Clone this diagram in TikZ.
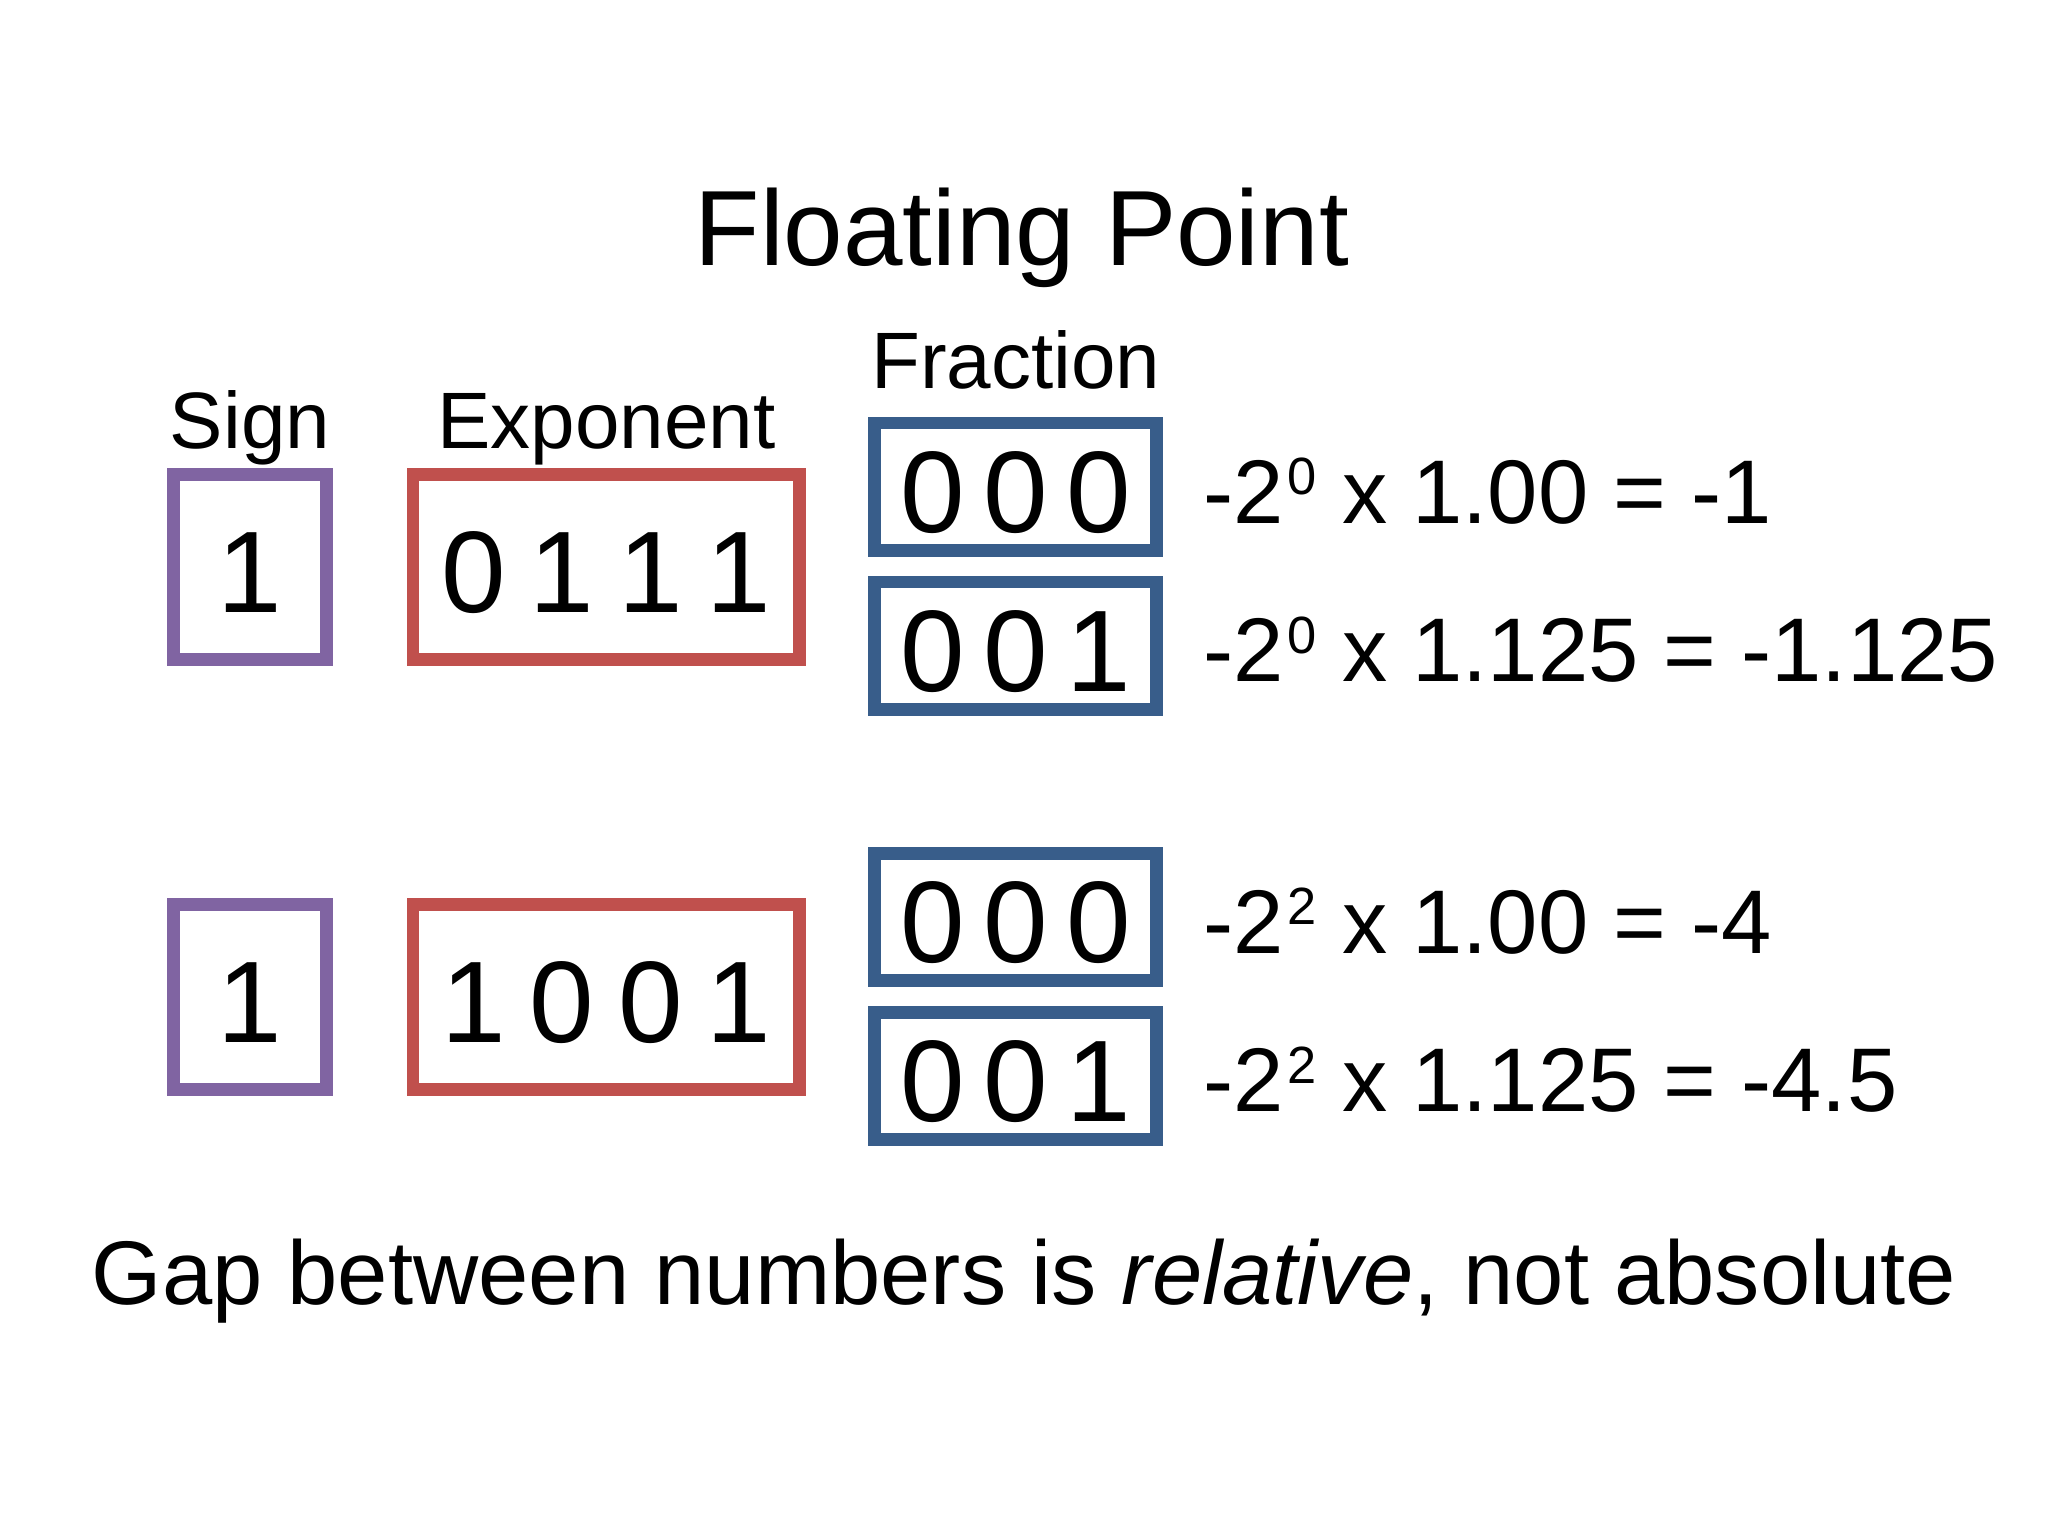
\documentclass[tikz,border=0pt]{standalone}
\usepackage{fontspec}
\setmainfont{Liberation Sans}
\usetikzlibrary{calc}
\definecolor{signc}{HTML}{8064A2}
\definecolor{expc}{HTML}{C0504D}
\definecolor{fracc}{HTML}{385D8A}
\newcommand\fgap{\hspace{4.7pt}}
\newcommand\egap{\hspace{6.0pt}}
\newcommand\supdig[1]{\hspace{1pt}\raisebox{7.1pt}{\fontsize{13.1pt}{13.1pt}\selectfont #1}}
\begin{document}
\begin{tikzpicture}[x=0.25pt,y=-0.25pt,
  box/.style={draw, line width=3.175pt, inner sep=0pt, outer sep=0pt, fill=white},
  signbox/.style={box, draw=signc, minimum width=38.175pt, minimum height=46.175pt},
  expbox/.style={box, draw=expc, minimum width=96.65pt, minimum height=46.175pt},
  fracbox/.style={box, draw=fracc, minimum width=70.5pt, minimum height=31.825pt},
  bits/.style={font=\fontsize{29pt}{29pt}\selectfont, anchor=base, inner sep=0pt},
  lbl/.style={font=\fontsize{20pt}{20pt}\selectfont, anchor=base, inner sep=0pt},
  eqn/.style={font=\fontsize{22.6pt}{22.6pt}\selectfont, anchor=base west, inner sep=0pt},
  ttl/.style={font=\fontsize{26.75pt}{26.75pt}\selectfont, anchor=base, inner sep=0pt},
  note/.style={font=\fontsize{22.6pt}{22.6pt}\selectfont, anchor=base, inner sep=0pt}]
\fill[white] (0,0) rectangle (2048,1536);
\useasboundingbox (0,0) rectangle (2048,1536);

% title
\node[ttl] (title) at (1022,265) {Floating Point};

% labels
\node[lbl] (lsign) at (250,448.5) {Sign};
\node[lbl] (lexp) at (606.35,448.5) {Exponent};
\node[lbl] (lfrac) at (1015.65,388.3) {Fraction};

% row 1 boxes
\node[signbox] (s1) at (250,567) {};
\node[expbox] (e1) at (606.35,567) {};
\node[fracbox] (f1) at (1015.65,486.7) {};
\node[fracbox] (f2) at (1015.65,645.7) {};
\node[bits] (s1t) at ($(s1.center)+(0,45.5)$) {1};
\node[bits] (e1t) at ($(e1.center)+(0,45.5)$) {0\egap 1\egap 1\egap 1};
\node[bits] (f1t) at ($(f1.center)+(0,45.5)$) {0\fgap 0\fgap 0};
\node[bits] (f2t) at ($(f2.center)+(0,45.5)$) {0\fgap 0\fgap 1};
\node[eqn] (q1) at (1202.7,523.3) {-2\supdig{0} x 1.00 = -1};
\node[eqn] (q2) at (1202.7,681.7) {-2\supdig{0} x 1.125 = -1.125};

% row 2 boxes
\node[signbox] (s2) at (250,997) {};
\node[expbox] (e2) at (606.35,997) {};
\node[fracbox] (f3) at (1015.65,917) {};
\node[fracbox] (f4) at (1015.65,1075.8) {};
\node[bits] (s2t) at ($(s2.center)+(0,45.5)$) {1};
\node[bits] (e2t) at ($(e2.center)+(0,45.5)$) {1\egap 0\egap 0\egap 1};
\node[bits] (f3t) at ($(f3.center)+(0,45.5)$) {0\fgap 0\fgap 0};
\node[bits] (f4t) at ($(f4.center)+(0,45.5)$) {0\fgap 0\fgap 1};
\node[eqn] (q3) at (1202.7,953.3) {-2\supdig{2} x 1.00 = -4};
\node[eqn] (q4) at (1202.7,1111.7) {-2\supdig{2} x 1.125 = -4.5};

% bottom note
\node[note] (gap) at (1024,1304.3) {Gap between numbers is \textit{relative}, not absolute};
\end{tikzpicture}
\end{document}
